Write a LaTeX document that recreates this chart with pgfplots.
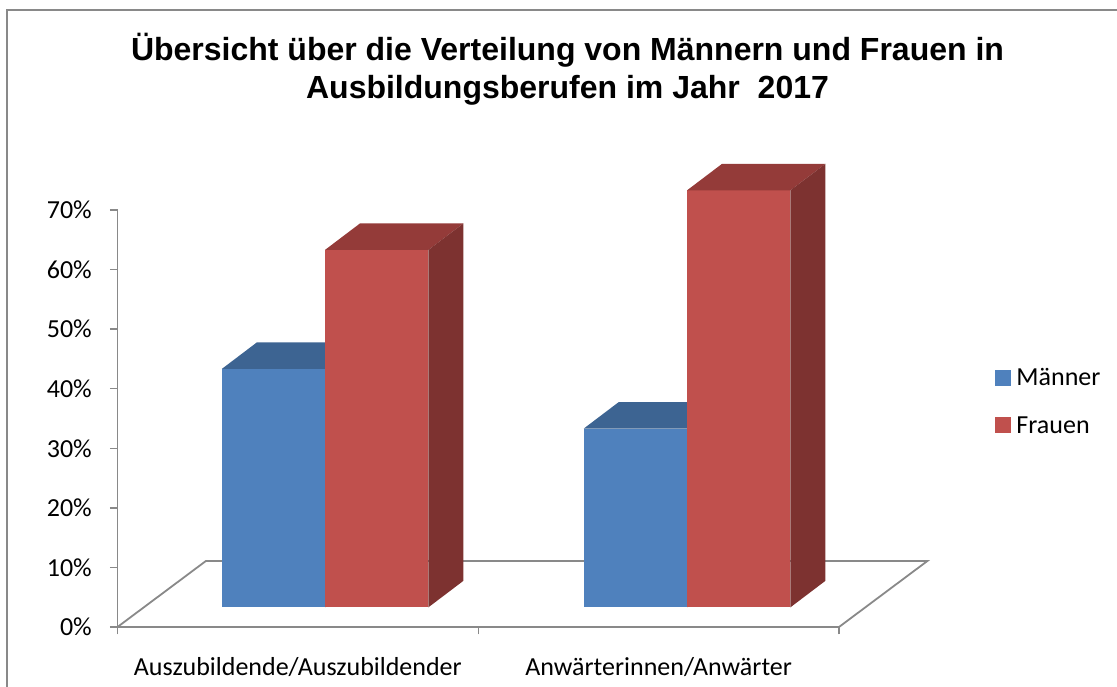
\documentclass[border=0pt]{standalone}
\usepackage{pgfplots}
\pgfplotsset{compat=1.18}
\usepackage{fontspec}
\setmainfont{Carlito}
\newfontfamily\titlefont{Liberation Sans}
\definecolor{blueF}{HTML}{4F81BD}
\definecolor{blueT}{HTML}{3D6492}
\definecolor{blueS}{HTML}{2F4D73}
\definecolor{redF}{HTML}{C0504D}
\definecolor{redT}{HTML}{943B39}
\definecolor{redS}{HTML}{7D3230}
\definecolor{axgray}{HTML}{898989}

\newcommand\bw{0.2865}
\newcommand\bb{3.31}
\newcommand\ddx{0.097}
\newcommand\ddy{4.45}

% #1 left x of front face, #2 value (%), #3 front, #4 top, #5 side colour
\newcommand{\threeDbar}[5]{%
  \pgfmathsetmacro\xa{#1}%
  \pgfmathsetmacro\xb{#1+\bw}%
  \pgfmathsetmacro\xc{#1+\bw+\ddx}%
  \pgfmathsetmacro\xd{#1+\ddx}%
  \pgfmathsetmacro\ya{\bb}%
  \pgfmathsetmacro\yb{\bb+#2}%
  \pgfmathsetmacro\yc{\bb+#2+\ddy}%
  \pgfmathsetmacro\yd{\bb+\ddy}%
  \edef\doit{%
    \noexpand\addplot[forget plot, fill=#3, draw=none] coordinates {(\xa,\ya) (\xb,\ya) (\xb,\yb) (\xa,\yb)};
    \noexpand\addplot[forget plot, fill=#4, draw=none] coordinates {(\xa,\yb) (\xb,\yb) (\xc,\yc) (\xd,\yc)};
    \noexpand\addplot[forget plot, fill=#5, draw=none] coordinates {(\xb,\ya) (\xc,\yd) (\xc,\yc) (\xb,\yb)};
  }\doit
}

\begin{document}
\begin{tikzpicture}
\useasboundingbox (0,0) rectangle (1117pt,687pt);
\draw[axgray, line width=1.5pt] (7pt,0) -- (7pt,677pt) -- (1117pt,677pt);
\node[font=\titlefont\bfseries\fontsize{32}{38}\selectfont, align=center] at (567.5pt,618pt)
  {Übersicht über die Verteilung von Männern und Frauen in\\Ausbildungsberufen im Jahr\ \ 2017};
\begin{axis}[
  at={(117.5pt,60pt)}, anchor=south west,
  scale only axis, width=721.5pt, height=417pt,
  xmin=0, xmax=2, ymin=0, ymax=70, clip=false,
  axis lines*=left,
  axis line style={axgray, line width=1.8pt},
  ytick={0,10,...,70},
  yticklabel={\pgfmathprintnumber{\tick}\%},
  /pgf/number format/assume math mode=true,
  xtick={0.5,1.5},
  xticklabels={Auszubildende/Auszubildender, Anwärterinnen/Anwärter},
  minor xtick={0,1,2},
  major x tick style={draw=none},
  tick align=outside, major tick length=7.5pt, minor tick length=7.5pt,
  tick style={axgray, line width=1.5pt},
  ticklabel style={font=\fontsize{26}{30}\selectfont, text=black},
  xticklabel style={anchor=base, inner sep=0pt, yshift=-41pt},
  yticklabel style={anchor=east, inner sep=0pt},
  yticklabel shift=18pt,
  legend style={at={(axis description cs:1.2163,0.5426)}, anchor=west,
    draw=none, fill=none, inner sep=0pt, outer sep=0pt, row sep=29.5pt,
    font=\fontsize{26}{30}\selectfont,
    nodes={inner sep=0pt, text height=18pt, text depth=0pt}},
  legend cell align=left,
]
\addlegendimage{legend image code/.code={\fill[blueF] (0pt,-8pt) rectangle (15pt,7pt); \path (21pt,0pt);}}
\addlegendentry{Männer}
\addlegendimage{legend image code/.code={\fill[redF] (0pt,-8pt) rectangle (15pt,7pt); \path (21pt,0pt);}}
\addlegendentry{Frauen}
\addplot[forget plot, draw=axgray, line width=1.8pt] coordinates {(0,0) (0.245,11.08) (2.245,11.08) (2,0)};
\threeDbar{0.289}{40}{blueF}{blueT}{blueS}
\threeDbar{0.5755}{60}{redF}{redT}{redS}
\threeDbar{1.2925}{30}{blueF}{blueT}{blueS}
\threeDbar{1.579}{70}{redF}{redT}{redS}
\end{axis}
\end{tikzpicture}
\end{document}
